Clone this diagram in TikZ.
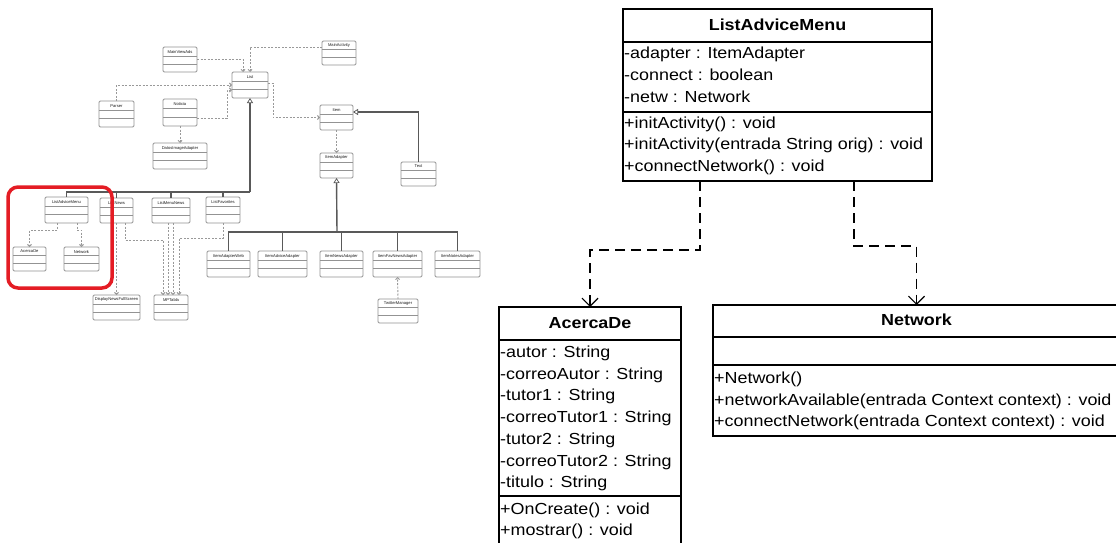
\documentclass[tikz,border=0pt]{standalone}
\usepackage{fontspec}
\setmainfont{Liberation Sans}
\newfontfamily\umlfont[FakeStretch=1.12]{Liberation Sans}
\usetikzlibrary{arrows.meta,calc}
\definecolor{hlred}{RGB}{228,28,36}
\tikzset{
 cls/.style={draw=black, line width=1.3pt, inner sep=0pt, outer sep=0pt, fill=white},
 sepline/.style={draw=black, line width=1.6pt},
 ttl/.style={font=\umlfont\fontsize{16}{18}\selectfont\bfseries, inner sep=0pt},
 mem/.style={font=\umlfont\fontsize{16}{18}\selectfont, anchor=west, inner xsep=1pt, inner ysep=0pt, text height=11.5pt, text depth=3.5pt, yshift=-1.8pt},
 bigdep/.style={draw=black, line width=1.3pt, dash pattern=on 10pt off 6pt, -{Straight Barb[length=8pt,width=16pt,line width=1.2pt]}},
 mini/.style={draw=gray!85, line width=0.9pt, rounded corners=1.2pt, fill=white, inner sep=0pt, outer sep=0pt},
 minisep/.style={draw=gray!85, line width=0.7pt},
 minilbl/.style={font=\fontsize{4.1}{4.5}\selectfont, inner sep=0pt, text=black!90},
 mdep/.style={draw=gray!80, line width=0.9pt, dash pattern=on 2pt off 1.5pt, -{Straight Barb[length=2pt,width=4pt]}},
 mgen/.style={draw=gray!70!black, line width=1.4pt, -{Triangle[open,length=5pt,width=6pt,line width=0.7pt]}},
 mline/.style={draw=gray!70!black, line width=1.4pt},
}
\newcommand\MiniCls[6]{%
 \node[mini, minimum width={#4-#2}, minimum height={#5-#3}] (#1) at ({(#2+#4)/2},{(#3+#5)/2}) {};
 \draw[minisep] (#2,{#3+0.36*(#5-#3)}) -- (#4,{#3+0.36*(#5-#3)});
 \draw[minisep] (#2,{#3+0.68*(#5-#3)}) -- (#4,{#3+0.68*(#5-#3)});
 \node[minilbl] (#1-l) at ({(#2+#4)/2},{#3+0.19*(#5-#3)}) {#6};
}
\begin{document}
\begin{tikzpicture}[x=1pt,y=-1pt]
\useasboundingbox (0,0) rectangle (1116,543);
\clip (0,0) rectangle (1116,543);
\fill[white] (0,0) rectangle (1116,543);

% ---------- small overview diagram ----------
\MiniCls{mva}{163}{47}{197}{72}{MainViewAds}
\MiniCls{ma}{322}{41}{356}{65}{MainActivity}
\MiniCls{list}{232}{72}{268}{98}{List}
\MiniCls{parser}{99}{101}{134}{127}{Parser}
\MiniCls{noti}{163}{99}{197}{126}{Noticia}
\MiniCls{dia}{153}{143}{207}{169}{DatosImageAdapter}
\MiniCls{item}{320}{105}{353}{130}{Item}
\MiniCls{iad}{320}{153}{353}{178}{ItemAdapter}
\MiniCls{txt}{401}{162}{436}{186}{Text}
\MiniCls{slam}{45}{197}{88}{223}{ListAdviceMenu}
\MiniCls{slnews}{100}{198}{133}{223}{ListNews}
\MiniCls{slmn}{152}{198}{190}{223}{ListMenuNews}
\MiniCls{slfav}{206}{197}{240}{223}{ListFavorites}
\MiniCls{sacd}{13}{247}{46}{271}{AcercaDe}
\MiniCls{snet}{64}{247}{99}{271}{Network}
\MiniCls{dnfs}{93}{295}{140}{320}{DisplayNewsFullScreen}
\MiniCls{mpt}{154}{295}{188}{320}{MPTabla}
\MiniCls{iaw}{207}{251}{250}{277}{ItemAdapterWeb}
\MiniCls{iaa}{258}{251}{307}{277}{ItemAdviceAdapter}
\MiniCls{ina}{320}{251}{363}{277}{ItemNewsAdapter}
\MiniCls{ifn}{373}{251}{422}{277}{ItemFavNewsAdapter}
\MiniCls{inote}{435}{251}{480}{277}{ItemNotesAdapter}
\MiniCls{tm}{378}{299}{418}{323}{TwitterManager}

\draw[mdep] (mva.east) -| ([xshift=-7pt]list.north);
\draw[mdep] ([yshift=6pt]ma.west) -| (list.north);
\draw[mdep] (parser.north) |- (list.west);
\draw[mdep] ([yshift=-5.5pt]noti.east) -- ++(30,0) |- ([yshift=-5pt]list.west);
\draw[mdep] (noti.south) -- (dia.north);
\draw[mdep] ([yshift=2pt]list.east) -- ++(5,0) |- (item.west);
\draw[mdep] (item.south) -- (iad.north);
\draw[mgen] (txt.north) |- ([yshift=5.5pt]item.east);

\coordinate (hubA) at (250,192);
\draw[mgen] (hubA) -- (list.south);
\draw[mline] (slam.north) |- (hubA);
\draw[mline] (slnews.north) -- (slnews.north |- hubA);
\draw[mline] (slmn.north) -- (slmn.north |- hubA);
\draw[mline] (slfav.north) -- (slfav.north |- hubA);

\draw[mdep] ([xshift=-9.5pt]slam.south) -- ++(0,7) -| (sacd.north);
\draw[mdep] ([xshift=10.5pt]slam.south) -- ++(0,7) -| (snet.north);
\draw[mdep] (slnews.south) -- (dnfs.north);
\draw[mdep] ([xshift=8.5pt]slnews.south) -- ++(0,17) -| ([xshift=-8pt]mpt.north);
\draw[mdep] ([xshift=-3pt]slmn.south) -- ([xshift=-3pt]slmn.south |- mpt.north);
\draw[mdep] ([xshift=2pt]slmn.south) -- ([xshift=2pt]slmn.south |- mpt.north);
\draw[mdep] (slfav.south) -- ++(0,15) -| ([xshift=8pt]mpt.north);

\coordinate (hubB) at (337,232);
\draw[mgen] (hubB) -- (iad.south);
\draw[mline] (iaw.north) |- (hubB);
\draw[mline] (inote.north) |- (hubB);
\draw[mline] (iaa.north) -- (iaa.north |- hubB);
\draw[mline] (ina.north) -- (ina.north |- hubB);
\draw[mline] (ifn.north) -- (ifn.north |- hubB);
\draw[mdep] (tm.north) -- (ifn.south);

\node[draw=hlred, line width=3.5pt, rounded corners=10pt, minimum width=104, minimum height=101, inner sep=0pt] (hl) at (60,237.5) {};

% ---------- detailed diagram ----------
\node[cls, minimum width=309, minimum height=172] (lam) at (777.5,95) {};
\node[ttl] (lam-t) at (777.5,25) {ListAdviceMenu};
\draw[sepline] (lam.west |- 0,42) -- (lam.east |- 0,42);
\draw[sepline] (lam.west |- 0,112) -- (lam.east |- 0,112);
\node[mem] (lam-a1) at (623,53) {-adapter : ItemAdapter};
\node[mem] (lam-a2) at (623,75) {-connect : boolean};
\node[mem] (lam-a3) at (623,97) {-netw : Network};
\node[mem] (lam-o1) at (623,123) {+initActivity() : void};
\node[mem] (lam-o2) at (623,144) {+initActivity(entrada String orig) : void};
\node[mem] (lam-o3) at (623,166) {+connectNetwork() : void};

\node[cls, minimum width=182, minimum height=240] (ad) at (590,427) {};
\node[ttl] (ad-t) at (590,323) {AcercaDe};
\draw[sepline] (ad.west |- 0,340) -- (ad.east |- 0,340);
\draw[sepline] (ad.west |- 0,496) -- (ad.east |- 0,496);
\node[mem] (ad-a1) at (499,352) {-autor : String};
\node[mem] (ad-a2) at (499,374) {-correoAutor : String};
\node[mem] (ad-a3) at (499,395) {-tutor1 : String};
\node[mem] (ad-a4) at (499,417) {-correoTutor1 : String};
\node[mem] (ad-a5) at (499,439) {-tutor2 : String};
\node[mem] (ad-a6) at (499,461) {-correoTutor2 : String};
\node[mem] (ad-a7) at (499,482) {-titulo : String};
\node[mem] (ad-o1) at (499,509) {+OnCreate() : void};
\node[mem] (ad-o2) at (499,530) {+mostrar() : void};

\node[cls, minimum width=407, minimum height=131] (net) at (916.5,370.5) {};
\node[ttl] (net-t) at (916.5,320) {Network};
\draw[sepline] (net.west |- 0,337) -- (net.east |- 0,337);
\draw[sepline] (net.west |- 0,365) -- (net.east |- 0,365);
\node[mem] (net-o1) at (713,378) {+Network()};
\node[mem] (net-o2) at (713,400) {+networkAvailable(entrada Context context) : void};
\node[mem] (net-o3) at (713,421) {+connectNetwork(entrada Context context) : void};

\draw[bigdep] ([xshift=-77.5pt]lam.south) -- ++(0,69) -| (ad.north);
\draw[bigdep] ([xshift=76.5pt]lam.south) -- ++(0,65) -| (net.north);
\end{tikzpicture}
\end{document}
